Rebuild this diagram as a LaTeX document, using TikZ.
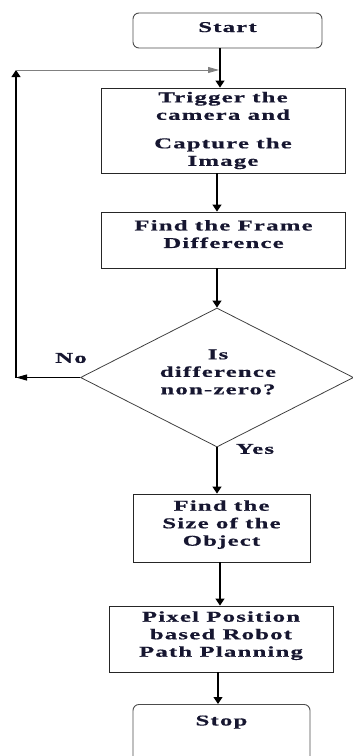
\documentclass[tikz,border=0pt]{standalone}
\usepackage{fontspec}
\usetikzlibrary{arrows.meta,shapes.geometric}
\newfontfamily\figfont[FakeStretch=1.65,LetterSpace=8,FakeBold=0.6]{Liberation Serif Bold}
\definecolor{ink}{RGB}{22,22,48}
\begin{document}
\begin{tikzpicture}[x=1pt,y=-1pt,
  every node/.style={font=\figfont\fontsize{15pt}{17.5pt}\selectfont, text=ink},
  box/.style={draw=black!85, line width=0.9pt, align=center, inner sep=0pt},
  term/.style={box, rounded corners=6pt, draw=black!70},
  decision/.style={diamond, draw=black!75, line width=0.8pt, aspect=1.96,
    minimum width=273pt, minimum height=139pt, inner sep=0pt},
  arr/.style={-{Triangle[width=9pt,length=7pt]}, line width=1.1pt, draw=black},
  arrh/.style={-{Triangle[width=6pt,length=11pt]}, line width=1pt, draw=black}]
\useasboundingbox (0,0) rectangle (353,756);
\clip (0,0) rectangle (353,756);
% nodes
\node[term, minimum width=189pt, minimum height=35pt, text height=10pt, text depth=7pt] (start) at (227.5,30.5) {Start};
\node[box, minimum width=244pt, minimum height=85pt] (b1) at (223,130.5) {Trigger the\\camera and\\[11pt]Capture the\\Image};
\node[box, minimum width=244pt, minimum height=56pt, text depth=12pt] (b2) at (223.5,240) {Find the Frame\\Difference};
\node[decision] (dec) at (217,377.5) {};
\node[align=center, inner sep=0pt] (dectext) at (218,372) {Is\\difference\\non-zero?};
\node[box, minimum width=177pt, minimum height=68pt, text depth=10pt] (b3) at (221.5,528) {Find the\\Size of the\\Object};
\node[box, minimum width=224pt, minimum height=66pt, text depth=10pt] (b4) at (221,639) {Pixel Position\\based Robot\\Path Planning};
\node[term, minimum width=177pt, anchor=north, inner ysep=0pt, text height=21pt, text depth=50pt] (stop) at (221.5,704) {Stop};
\node (no) at (71,358) {No};
\node (yes) at (255,449) {Yes};
% connectors
\draw[arr] (start.south -| 220,0) -- (b1.north -| 220,0);
\draw[arr] (b1.south -| 217,0) -- (b2.north -| 217,0);
\draw[arr] (b2.south -| dec.north) -- (dec.north);
\draw[arr] (dec.south) -- (b3.north -| dec.south);
\draw[arr] (b3.south -| 220,0) -- (b4.north -| 220,0);
\draw[arr] (b4.south -| 218,0) -- (stop.north -| 218,0);
\coordinate (fbB) at (16,377.5);
\coordinate (fbT) at (16,70);
\coordinate (fbR) at (219,70);
\draw[arrh] (dec.west) -- (fbB);
\draw[arr] (fbB) -- (fbT);
\draw[arrh, draw=black!50, line width=0.9pt] (fbT) -- (fbR);
\end{tikzpicture}
\end{document}
